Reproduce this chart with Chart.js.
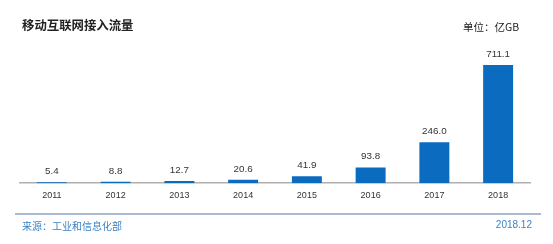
<!DOCTYPE html>
<html>
<head>
<meta charset="utf-8">
<script src="https://cdn.jsdelivr.net/npm/chart.js@4/dist/chart.umd.min.js"></script>
<style>
  body { margin: 0; background: #fff; }
  #wrap { position: relative; width: 553px; height: 244px; overflow: hidden; }
  #chart { position: absolute; left: 0; top: 0; }
  .txt { position: absolute; white-space: nowrap; line-height: 1; }
  #title { left: 22px; top: 16px; font: bold 12.4px "Noto Sans CJK SC", sans-serif; color: #222; }
  #unit { left: 463px; top: 19px; font: 10.5px "Noto Sans CJK SC", sans-serif; color: #222; }
  #rule { position: absolute; left: 15px; top: 213px; width: 526px; height: 1.5px; background: #a9bbd0; }
  #source { left: 22px; top: 218px; font: 10px "Noto Sans CJK SC", sans-serif; color: #3d82c4; }
  #date { right: 21px; top: 219px; font: 10px "Liberation Sans", sans-serif; color: #3d82c4; }
</style>
</head>
<body>
<div id="wrap">
  <canvas id="chart" width="553" height="244"></canvas>
  <div class="txt" id="title">移动互联网接入流量</div>
  <div class="txt" id="unit">单位：亿GB</div>
  <div id="rule"></div>
  <div class="txt" id="source">来源：工业和信息化部</div>
  <div class="txt" id="date">2018.12</div>
</div>
<script>
// Data
const years = ['2011', '2012', '2013', '2014', '2015', '2016', '2017', '2018'];
const traffic = [5.4, 8.8, 12.7, 20.6, 41.9, 93.8, 246.0, 711.1];

// Draws the value above each bar
const valueLabels = {
    id: 'valueLabels',
    afterDatasetsDraw(chart) {
        const ctx = chart.ctx;
        const meta = chart.getDatasetMeta(0);
        ctx.save();
        ctx.font = '9.8px "Liberation Sans", sans-serif';
        ctx.fillStyle = '#333';
        ctx.textAlign = 'center';
        ctx.textBaseline = 'bottom';
        meta.data.forEach((bar, i) => {
            ctx.fillText(traffic[i].toFixed(1), bar.x, bar.y - 6);
        });
        ctx.restore();
    }
};

new Chart(document.getElementById('chart').getContext('2d'), {
    type: 'bar',
    data: {
        labels: years,
        datasets: [{
            data: traffic,
            backgroundColor: '#0b6bbf',
            barPercentage: 0.94,
            categoryPercentage: 0.5
        }]
    },
    options: {
        responsive: false,
        animation: false,
        layout: { padding: { top: 40, left: 20, right: 23, bottom: 36 } },
        plugins: {
            legend: { display: false },
            tooltip: { enabled: false }
        },
        scales: {
            x: {
                grid: { display: false, drawTicks: false },
                border: { display: true, color: '#b0b0b0', width: 1.5 },
                ticks: {
                    color: '#333',
                    font: { family: '"Liberation Sans", sans-serif', size: 9 },
                    padding: 7,
                    maxRotation: 0
                }
            },
            y: {
                display: false,
                min: 0,
                max: 862
            }
        }
    },
    plugins: [valueLabels]
});
</script>
</body>
</html>
